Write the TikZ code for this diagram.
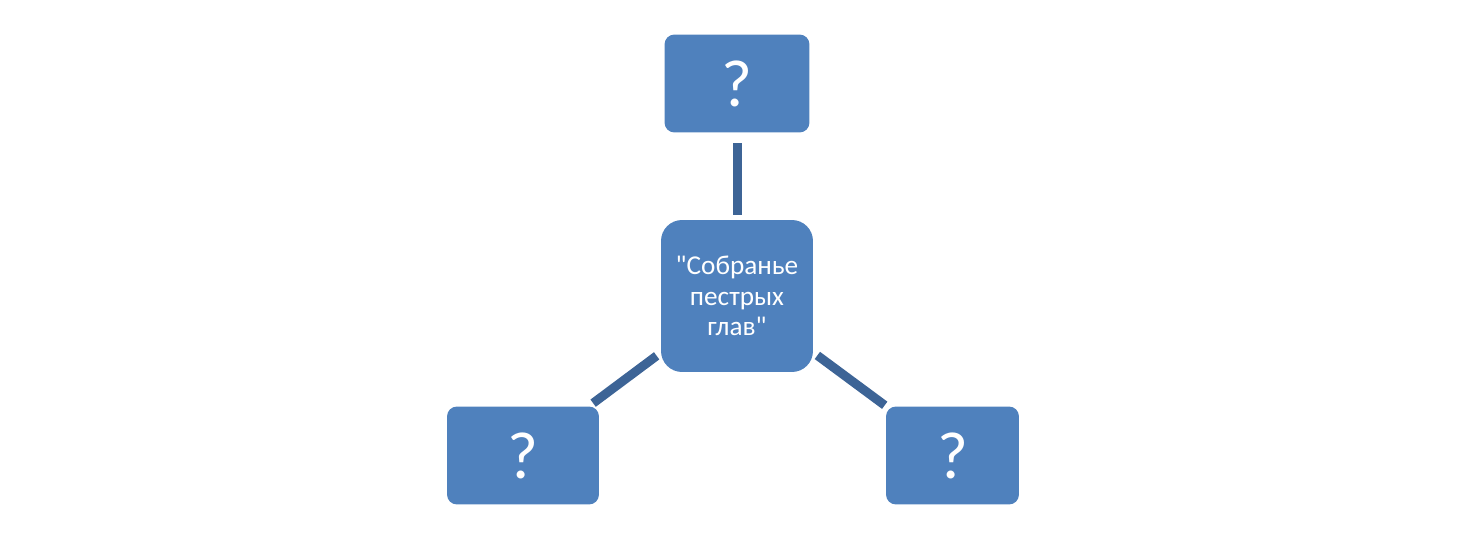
\documentclass[tikz,border=0pt]{standalone}
\usepackage{fontspec}
\setmainfont{Carlito}[Ligatures=TeXOff]
\usetikzlibrary{positioning}
\definecolor{boxblue}{HTML}{4F81BD}
\definecolor{lineblue}{HTML}{3D6496}

\begin{document}
\begin{tikzpicture}[
        x=0.02cm, y=-0.02cm,
        every node/.style={text=white},
        box/.style={rectangle, rounded corners=0.2cm, fill=boxblue, minimum height=1.96cm, inner sep=0pt, text centered, font=\fontsize{38}{40}\selectfont},
        hub/.style={rectangle, rounded corners=0.42cm, fill=boxblue, minimum width=3.04cm, minimum height=3.04cm, inner sep=0pt, align=center, font=\fontsize{15.5}{17.5}\selectfont},
        link/.style={line width=0.18cm, draw=lineblue, shorten <=0.1cm, shorten >=0.1cm}
    ]
    \useasboundingbox (0,0) rectangle (1465,538);

    % Nodes
    \node (hub) [hub] at (737,296) {"Собранье\\пестрых\\глав"};
    \node (top) [box, minimum width=2.9cm] at (737,83.5) {?};
    \node (left) [box, minimum width=3.04cm] at (523,455.5) {?};
    \node (right) [box, minimum width=2.66cm] at (952.5,455.5) {?};

    % Lines
    \draw [link, shorten >=0.2cm] (hub) -- (top);
    \draw [link] (hub) -- (left);
    \draw [link, shorten >=0.03cm] (hub) -- (right);

\end{tikzpicture}
\end{document}
